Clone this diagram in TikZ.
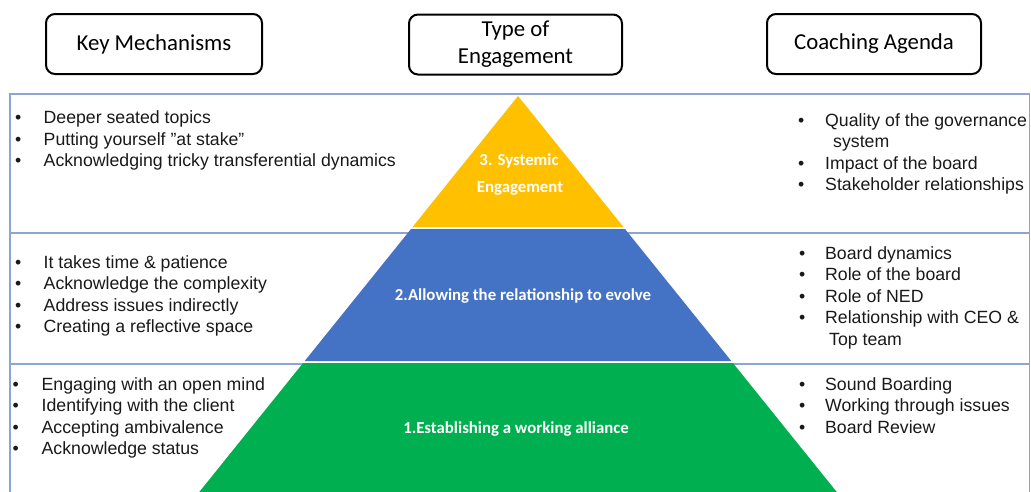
\documentclass[tikz,border=0pt]{standalone}
\usepackage{fontspec}
\setmainfont{Liberation Sans}
\newfontfamily\headfont{Carlito}
\definecolor{bandblue}{RGB}{140,165,212}
\definecolor{pyrYellow}{HTML}{FFC000}
\definecolor{pyrBlue}{HTML}{4472C4}
\definecolor{pyrGreen}{HTML}{00B050}
\definecolor{txt}{RGB}{25,25,25}
\newcommand\bul[1]{\makebox[#1][l]{\textbullet}}
\newcommand\dq{\symbol{34}}
\begin{document}
\begin{tikzpicture}[x=1pt,y=-1pt,
  hdr/.style={draw=black, line width=2pt, rounded corners=9pt, minimum height=60pt,
    font=\headfont\fontsize{22.8}{27}\selectfont, align=center, inner sep=0pt},
  band/.style={draw=bandblue, line width=1.6pt},
  item/.style={anchor=base west, inner sep=0pt, text=txt,
    font=\fontsize{17.7}{21.5}\selectfont},
  lvl/.style={anchor=base, inner sep=0pt, text=white,
    font=\headfont\bfseries\fontsize{16.8}{20}\selectfont}]
\useasboundingbox (0,0) rectangle (1031,491);

% column headers
\node[hdr, minimum width=216pt] (km) at (154,44) {Key Mechanisms};
\node[hdr, minimum width=213pt] (te) at (515.5,44.5) {Type of\\Engagement};
\node[hdr, minimum width=214pt] (ca) at (874,44) {Coaching Agenda};

% horizontal bands
\draw[band] (10,94) rectangle (1029.5,233);
\draw[band] (10,233) rectangle (1029.5,364);
\draw[band] (10,364) rectangle (1029.5,520);

% pyramid levels
\fill[pyrYellow] (518,96) -- (623.5,227) -- (412.5,227) -- cycle;
\fill[pyrBlue] (411,229) -- (625,229) -- (731.3,361) -- (304.7,361) -- cycle;
\fill[pyrGreen] (303.1,363) -- (732.9,363) -- (843.2,500) -- (192.8,500) -- cycle;

\node[lvl] (l3a) at (519,165) {3. Systemic};
\node[lvl] (l3b) at (520,192.5) {Engagement};
\node[lvl] (l2) at (523,300) {2.Allowing the relationship to evolve};
\node[lvl] (l1) at (516,433) {1.Establishing a working alliance};

% key mechanisms
\foreach \t [count=\i] in {Deeper seated topics, Putting yourself \dq at stake\dq,
    Acknowledging tricky transferential dynamics}
  \node[item] (kmA\i) at (15,{123.5+21.5*(\i-1)}) {\bul{28.5pt}\t};
\foreach \t [count=\i] in {It takes time \& patience, Acknowledge the complexity,
    Address issues indirectly, Creating a reflective space}
  \node[item] (kmB\i) at (15,{268+21.5*(\i-1)}) {\bul{28.5pt}\t};
\foreach \t [count=\i] in {Engaging with an open mind, Identifying with the client,
    Accepting ambivalence, Acknowledge status}
  \node[item] (kmC\i) at (12.5,{390+21.5*(\i-1)}) {\bul{29pt}\t};

% coaching agenda
\node[item] (caA1) at (798,126) {\bul{27pt}Quality of the governance};
\node[item] (caA1b) at (833,147.5) {system};
\node[item] (caA2) at (798,169) {\bul{27pt}Impact of the board};
\node[item] (caA3) at (798,190.5) {\bul{27pt}Stakeholder relationships};

\foreach \t [count=\i] in {Board dynamics, Role of the board, Role of NED,
    Relationship with CEO \&}
  \node[item] (caB\i) at (799,{259+21.5*(\i-1)}) {\bul{26pt}\t};
\node[item] (caB4b) at (829,345) {Top team};

\foreach \t [count=\i] in {Sound Boarding, Working through issues, Board Review}
  \node[item] (caC\i) at (799,{390+21.5*(\i-1)}) {\bul{26pt}\t};
\end{tikzpicture}
\end{document}
